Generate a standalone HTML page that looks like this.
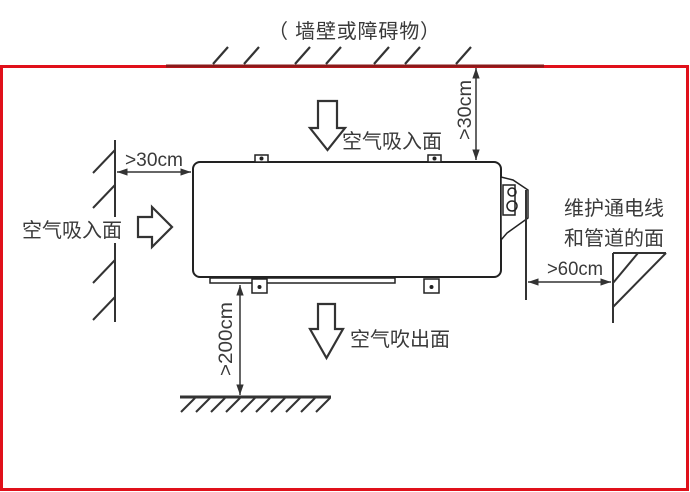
<!DOCTYPE html>
<html><head><meta charset="utf-8"><style>
html,body{margin:0;padding:0;background:#fff;}
svg{display:block;}
text{font-family:"Liberation Sans","Noto Sans CJK SC",sans-serif;fill:#3a3a3a;}
</style></head><body>
<svg width="690" height="492" viewBox="0 0 690 492" xmlns="http://www.w3.org/2000/svg">
<defs>
<marker id="a" viewBox="0 0 10 10" refX="10" refY="5" markerWidth="7" markerHeight="7" orient="auto-start-reverse"><path d="M0,1.5 L10,5 L0,8.5 Z" fill="#333"/></marker>
</defs>
<rect x="1.5" y="66.5" width="686" height="423" fill="none" stroke="#e0101a" stroke-width="3"/>
<line x1="166" y1="66" x2="544" y2="66" stroke="#8a1a1a" stroke-width="3"/>
<g stroke="#333" stroke-width="2.2">
<line x1="213" y1="64" x2="228" y2="47"/><line x1="244" y1="64" x2="259" y2="47"/>
<line x1="295" y1="64" x2="310" y2="47"/><line x1="326" y1="64" x2="341" y2="47"/>
<line x1="374" y1="64" x2="389" y2="47"/><line x1="405" y1="64" x2="420" y2="47"/>
<line x1="456" y1="64" x2="471" y2="47"/>
</g>
<text x="268" y="38" font-size="20" textLength="172" lengthAdjust="spacing">（ 墙壁或障碍物）</text>
<line x1="476" y1="68" x2="476" y2="160" stroke="#333" stroke-width="1.5" marker-start="url(#a)" marker-end="url(#a)"/>
<text transform="translate(471,140) rotate(-90)" font-size="19" textLength="60" lengthAdjust="spacingAndGlyphs">&gt;30cm</text>
<path d="M318,101 H337 V128 H345 L327.5,150 L310,128 H318 Z" fill="#fff" stroke="#333" stroke-width="2.2"/>
<text x="342" y="148" font-size="20">空气吸入面</text>
<rect x="193" y="162" width="308" height="115" rx="7" fill="#fff" stroke="#222" stroke-width="2"/>
<g fill="#fff" stroke="#222" stroke-width="1.5">
<rect x="255" y="155" width="13" height="7"/><rect x="428" y="155" width="13" height="7"/>
<rect x="210" y="278" width="185" height="5"/>
<rect x="252" y="279" width="15" height="14"/><rect x="424" y="279" width="15" height="14"/>
<path d="M501,177 L513,180 L528,190 L528,218 L507,233 L501,240 Z"/>
<rect x="503" y="185" width="12" height="30"/>
</g>
<g fill="#222"><circle cx="261.5" cy="158.5" r="2"/><circle cx="434.5" cy="158.5" r="2"/><circle cx="259.5" cy="287" r="2"/><circle cx="431.5" cy="287" r="2"/></g>
<circle cx="512" cy="192" r="4" fill="none" stroke="#222" stroke-width="1.5"/>
<circle cx="512" cy="206" r="5" fill="none" stroke="#222" stroke-width="1.5"/>
<g stroke="#333" stroke-width="2">
<line x1="115" y1="140" x2="115" y2="217"/><line x1="115" y1="243" x2="115" y2="322"/>
<line x1="115" y1="150" x2="93" y2="173"/><line x1="115" y1="185" x2="93" y2="208"/>
<line x1="115" y1="260" x2="93" y2="283"/><line x1="115" y1="297" x2="93" y2="320"/>
</g>
<line x1="117" y1="172" x2="191" y2="172" stroke="#333" stroke-width="1.5" marker-start="url(#a)" marker-end="url(#a)"/>
<text x="125" y="166" font-size="19" textLength="58" lengthAdjust="spacingAndGlyphs">&gt;30cm</text>
<text x="22" y="237" font-size="20">空气吸入面</text>
<path d="M138,217 H152 V207 L172,227 L152,247 V237 H138 Z" fill="#fff" stroke="#333" stroke-width="2.2"/>
<line x1="526" y1="190" x2="526" y2="300" stroke="#333" stroke-width="2"/>
<g stroke="#333" stroke-width="2">
<line x1="613" y1="253" x2="613" y2="323"/><line x1="613" y1="253" x2="666" y2="253"/>
<line x1="613" y1="283" x2="638" y2="253"/><line x1="613" y1="307" x2="666" y2="253"/>
</g>
<line x1="528" y1="282" x2="611" y2="282" stroke="#333" stroke-width="1.5" marker-start="url(#a)" marker-end="url(#a)"/>
<text x="547" y="275" font-size="19" textLength="56" lengthAdjust="spacingAndGlyphs">&gt;60cm</text>
<text x="564" y="215" font-size="20">维护通电线</text>
<text x="564" y="245" font-size="20">和管道的面</text>
<line x1="240" y1="285" x2="240" y2="395" stroke="#333" stroke-width="1.5" marker-start="url(#a)" marker-end="url(#a)"/>
<text transform="translate(232,376) rotate(-90)" font-size="19" textLength="74" lengthAdjust="spacingAndGlyphs">&gt;200cm</text>
<line x1="180" y1="397" x2="331" y2="397" stroke="#333" stroke-width="3"/>
<g stroke="#333" stroke-width="2">
<line x1="195" y1="398" x2="181" y2="412"/><line x1="210" y1="398" x2="196" y2="412"/>
<line x1="225" y1="398" x2="211" y2="412"/><line x1="240" y1="398" x2="226" y2="412"/>
<line x1="255" y1="398" x2="241" y2="412"/><line x1="270" y1="398" x2="256" y2="412"/>
<line x1="285" y1="398" x2="271" y2="412"/><line x1="300" y1="398" x2="286" y2="412"/>
<line x1="315" y1="398" x2="301" y2="412"/><line x1="330" y1="398" x2="316" y2="412"/>
</g>
<path d="M318,304 H335 V329 H343 L326.5,358 L310,329 H318 Z" fill="#fff" stroke="#333" stroke-width="2.2"/>
<text x="350" y="346" font-size="20">空气吹出面</text>
</svg>
</body></html>
